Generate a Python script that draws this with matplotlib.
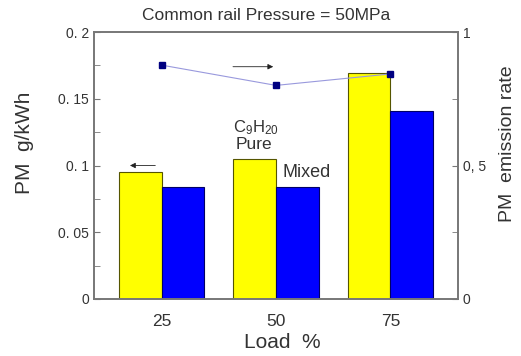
import matplotlib
matplotlib.use("Agg")
import matplotlib.pyplot as plt
import numpy as np

plt.rcParams['font.family'] = ['Liberation Sans', 'DejaVu Sans']
plt.rcParams['mathtext.default'] = 'regular'

loads = ["25", "50", "75"]
pm_pure = [0.095, 0.105, 0.169]
pm_mixed = [0.084, 0.084, 0.141]
emission_rate = [0.876, 0.800, 0.843]
left_ticks = [0, 0.05, 0.1, 0.15, 0.2]
left_labels = ['0', '0. 05', '0. 1', '0. 15', '0. 2']
right_ticks = [0, 0.5, 1]
right_labels = ['0', '0, 5', '1']

text_c = '#333333'
spine_c = '#777777'

fig = plt.figure(figsize=(5.21, 3.56), dpi=100)
ax = fig.add_axes([94/521, 1-299/356, (458-94)/521, (299-32)/356])
x = np.arange(len(loads))
w = 0.375
ax.bar(x - w/2, pm_pure, w, color='#ffff00', edgecolor='#555500', linewidth=0.8)
ax.bar(x + w/2, pm_mixed, w, color='#0000ff', edgecolor='#000066', linewidth=0.8)
ax.set_xlim(-0.59, 2.59)
ax.set_ylim(0, 0.2)
ax.set_xticks(x)
ax.set_xticklabels(loads)
ax.set_yticks(left_ticks, left_labels)
ax.set_yticks([0.025, 0.075, 0.125, 0.175], minor=True)
ax.tick_params(axis='y', which='both', direction='in', length=4, color=spine_c,
               labelcolor=text_c, labelsize=10)
ax.tick_params(axis='x', length=0, labelcolor=text_c, labelsize=12.5, pad=11)
for s in ax.spines.values():
    s.set_color(spine_c)
    s.set_linewidth(1.2)

ax2 = ax.twinx()
ax2.set_ylim(0, 1)
ax2.plot(x, emission_rate, color='#9999dd', linewidth=0.8,
         marker='s', markersize=5, markerfacecolor='#000080', markeredgecolor='#000080')
ax2.set_yticks(right_ticks, right_labels)
ax2.set_yticks([0.25, 0.75], minor=True)
ax2.tick_params(axis='y', which='both', direction='in', length=4, color=spine_c,
                labelcolor=text_c, labelsize=10)
for s in ax2.spines.values():
    s.set_color(spine_c)
    s.set_linewidth(1.2)

# direction arrows indicating which axis each series uses
ax.annotate('', xy=(-0.3, 0.1), xytext=(-0.03, 0.1),
            arrowprops=dict(arrowstyle='-|>', color='#222222', lw=0.6,
                            mutation_scale=8))
ax.annotate('', xy=(1.0, 0.174), xytext=(0.6, 0.174),
            arrowprops=dict(arrowstyle='-|>', color='#222222', lw=0.6,
                            mutation_scale=8))

ax.text(0.825, 0.128, r'C$_9$H$_{20}$', ha='center', va='center', fontsize=12, color=text_c)
ax.text(0.808, 0.1154, 'Pure', ha='center', va='center', fontsize=12.5, color=text_c)
ax.text(1.27, 0.0950, 'Mixed', ha='center', va='center', fontsize=13, color=text_c)

fig.text(266/521, 1-16/356, 'Common rail Pressure = 50MPa', ha='center', va='center',
         fontsize=12.5, color=text_c)
fig.text(282/521, 1-343/356, 'Load  %', ha='center', va='center', fontsize=15, color=text_c)
fig.text(25/521, 1-143/356, 'PM  g/kWh', ha='center', va='center', rotation=90,
         fontsize=15, color=text_c)
fig.text(508/521, 1-144/356, 'PM  emission rate', ha='center', va='center', rotation=90,
         fontsize=14, color=text_c)

fig.savefig('out.png', dpi=100)
